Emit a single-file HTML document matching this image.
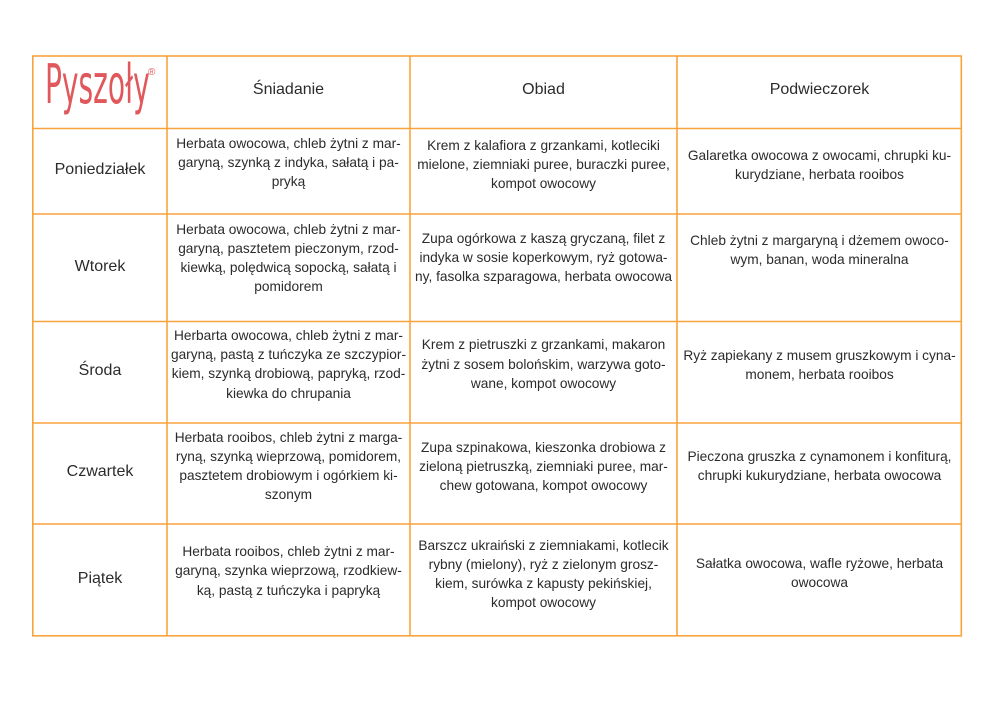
<!DOCTYPE html>
<html><head><meta charset="utf-8">
<style>
html,body{margin:0;padding:0;background:#fff;}
body{width:992px;height:701px;position:relative;overflow:hidden;font-family:"Liberation Sans","DejaVu Sans",sans-serif;color:#2b2b2b;}
.l{position:absolute;height:20px;line-height:20px;text-align:center;font-size:13.7px;white-space:nowrap;}
.c0{left:33px;width:134px;}
.c1{left:167px;width:243px;}
.c2{left:410px;width:267px;}
.c3{left:677px;width:285px;}
.h{font-size:16px;}
svg{position:absolute;left:0;top:0;}
.logo{position:absolute;left:45px;top:55px;font-size:54px;line-height:60px;color:#e0585b;transform:scaleX(0.52);transform-origin:0 0;font-family:"DejaVu Sans","Liberation Sans",sans-serif;font-weight:400;}
.reg{position:absolute;left:148px;top:67px;font-size:10px;color:#e0585b;}
</style></head><body>
<svg width="992" height="701">
<g stroke="#f8a43c" stroke-width="1.6" fill="none">
<rect x="32.8" y="56" width="928.5" height="579.8"/>
<line x1="167" y1="56" x2="167" y2="636"/>
<line x1="410" y1="56" x2="410" y2="636"/>
<line x1="677" y1="56" x2="677" y2="636"/>
<line x1="33" y1="128.5" x2="961" y2="128.5"/>
<line x1="33" y1="214" x2="961" y2="214"/>
<line x1="33" y1="321.5" x2="961" y2="321.5"/>
<line x1="33" y1="423" x2="961" y2="423"/>
<line x1="33" y1="524" x2="961" y2="524"/>
</g>
</svg>
<div class="logo">Pyszoły</div>
<div class="reg">®</div>

<div class="l h c1" style="top:80px">Śniadanie</div>
<div class="l h c2" style="top:80px">Obiad</div>
<div class="l h c3" style="top:80px">Podwieczorek</div>

<div class="l h c0" style="top:160px">Poniedziałek</div>
<div class="l c1" style="top:134px">Herbata owocowa, chleb żytni z mar-</div>
<div class="l c1" style="top:153px">garyną, szynką z indyka, sałatą i pa-</div>
<div class="l c1" style="top:172px">pryką</div>
<div class="l c2" style="top:136px">Krem z kalafiora z grzankami, kotleciki</div>
<div class="l c2" style="top:155px">mielone, ziemniaki puree, buraczki puree,</div>
<div class="l c2" style="top:174px">kompot owocowy</div>
<div class="l c3" style="top:146px">Galaretka owocowa z owocami, chrupki ku-</div>
<div class="l c3" style="top:165px">kurydziane, herbata rooibos</div>

<div class="l h c0" style="top:257px">Wtorek</div>
<div class="l c1" style="top:220px">Herbata owocowa, chleb żytni z mar-</div>
<div class="l c1" style="top:239px">garyną, pasztetem pieczonym, rzod-</div>
<div class="l c1" style="top:258px">kiewką, polędwicą sopocką, sałatą i</div>
<div class="l c1" style="top:277px">pomidorem</div>
<div class="l c2" style="top:229px">Zupa ogórkowa z kaszą gryczaną, filet z</div>
<div class="l c2" style="top:248px">indyka w sosie koperkowym, ryż gotowa-</div>
<div class="l c2" style="top:267px">ny, fasolka szparagowa, herbata owocowa</div>
<div class="l c3" style="top:231px">Chleb żytni z margaryną i dżemem owoco-</div>
<div class="l c3" style="top:250px">wym, banan, woda mineralna</div>

<div class="l h c0" style="top:361px">Środa</div>
<div class="l c1" style="top:326px">Herbarta owocowa, chleb żytni z mar-</div>
<div class="l c1" style="top:345px">garyną, pastą z tuńczyka ze szczypior-</div>
<div class="l c1" style="top:364px">kiem, szynką drobiową, papryką, rzod-</div>
<div class="l c1" style="top:384px">kiewka do chrupania</div>
<div class="l c2" style="top:335px">Krem z pietruszki z grzankami, makaron</div>
<div class="l c2" style="top:355px">żytni z sosem bolońskim, warzywa goto-</div>
<div class="l c2" style="top:374px">wane, kompot owocowy</div>
<div class="l c3" style="top:346px">Ryż zapiekany z musem gruszkowym i cyna-</div>
<div class="l c3" style="top:365px">monem, herbata rooibos</div>

<div class="l h c0" style="top:462px">Czwartek</div>
<div class="l c1" style="top:428px">Herbata rooibos, chleb żytni z marga-</div>
<div class="l c1" style="top:447px">ryną, szynką wieprzową, pomidorem,</div>
<div class="l c1" style="top:466px">pasztetem drobiowym i ogórkiem ki-</div>
<div class="l c1" style="top:485px">szonym</div>
<div class="l c2" style="top:438px">Zupa szpinakowa, kieszonka drobiowa z</div>
<div class="l c2" style="top:457px">zieloną pietruszką, ziemniaki puree, mar-</div>
<div class="l c2" style="top:476px">chew gotowana, kompot owocowy</div>
<div class="l c3" style="top:447px">Pieczona gruszka z cynamonem i konfiturą,</div>
<div class="l c3" style="top:466px">chrupki kukurydziane, herbata owocowa</div>

<div class="l h c0" style="top:569px">Piątek</div>
<div class="l c1" style="top:542px">Herbata rooibos, chleb żytni z mar-</div>
<div class="l c1" style="top:561px">garyną, szynka wieprzową, rzodkiew-</div>
<div class="l c1" style="top:581px">ką, pastą z tuńczyka i papryką</div>
<div class="l c2" style="top:536px">Barszcz ukraiński z ziemniakami, kotlecik</div>
<div class="l c2" style="top:555px">rybny (mielony), ryż z zielonym grosz-</div>
<div class="l c2" style="top:574px">kiem, surówka z kapusty pekińskiej,</div>
<div class="l c2" style="top:593px">kompot owocowy</div>
<div class="l c3" style="top:554px">Sałatka owocowa, wafle ryżowe, herbata</div>
<div class="l c3" style="top:573px">owocowa</div>
</body></html>
